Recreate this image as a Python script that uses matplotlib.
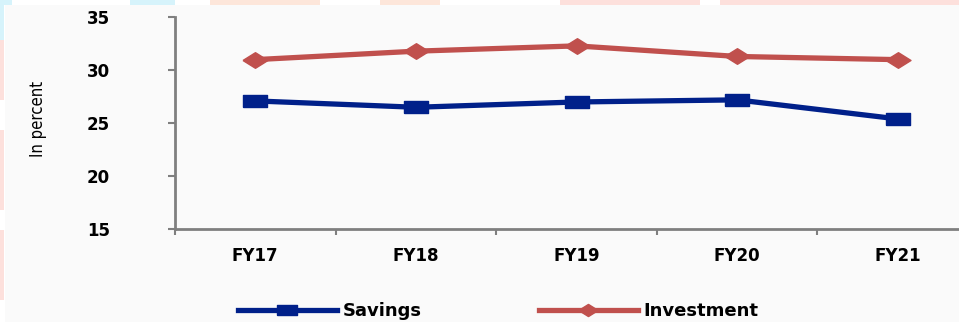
import matplotlib.pyplot as plt
from matplotlib.patches import Rectangle
from matplotlib.ticker import FixedLocator

# values (percent of GDP)
years = ["FY17", "FY18", "FY19", "FY20", "FY21"]
savings = [27.1, 26.5, 27.0, 27.2, 25.4]
investment = [31.0, 31.8, 32.3, 31.3, 31.0]

NAVY = "#00208a"
RED = "#c0504d"
AXIS = "#7f7f7f"

# stretched markers, the source image is widened horizontally
wide_square = [(-2.0, -1), (2.0, -1), (2.0, 1), (-2.0, 1), (-2.0, -1)]
wide_diamond = [(-1.6, 0), (0, 1), (1.6, 0), (0, -1), (-1.6, 0)]

W, H = 959, 322
fig = plt.figure(figsize=(W / 100, H / 100), dpi=100)
fig.patch.set_facecolor("white")

# light chart area plus faint watermark strips at the top and left edge
fig.patches.append(Rectangle((5 / W, 0), 1, 1 - 5 / H, transform=fig.transFigure,
                             facecolor="#fafafa", edgecolor="none", zorder=-3))
for x0, w, c in [(0, 12, "#d6f3fb"), (130, 45, "#d6f3fb"), (210, 110, "#fde6da"),
                 (380, 60, "#fde6da"), (560, 140, "#fde0dc"), (720, 239, "#fde0dc")]:
    fig.patches.append(Rectangle((x0 / W, 1 - 5 / H), w / W, 5 / H, transform=fig.transFigure,
                                 facecolor=c, edgecolor="none", zorder=-3))
for y0, h, c in [(0, 40, "#d6f3fb"), (40, 60, "#fde0dc"), (130, 80, "#fde0dc"), (230, 70, "#fde0dc")]:
    fig.patches.append(Rectangle((0, 1 - (y0 + h) / H), 4 / W, h / H, transform=fig.transFigure,
                                 facecolor=c, edgecolor="none", zorder=-3))

left, right, top, bottom = 175, 978, 17.3, 229
ax = fig.add_axes([left / W, 1 - bottom / H, (right - left) / W, (bottom - top) / H])
ax.set_facecolor("none")

x = range(len(years))
ax.plot(x, savings, color=NAVY, lw=3.8, marker=wide_square, ms=17,
        mec=NAVY, mfc=NAVY, label="Savings", solid_joinstyle="round")
ax.plot(x, investment, color=RED, lw=3.8, marker=wide_diamond, ms=18,
        mec=RED, mfc=RED, label="Investment", solid_joinstyle="round")

ax.set_xlim(-0.5, 4.5)
ax.set_ylim(15, 35)
ax.set_yticks([15, 20, 25, 30, 35])
ax.set_xticks(list(x))
ax.set_xticklabels(years)
ax.xaxis.set_minor_locator(FixedLocator([-0.5, 0.5, 1.5, 2.5, 3.5]))

for s in ["top", "right"]:
    ax.spines[s].set_visible(False)
for s in ["left", "bottom"]:
    ax.spines[s].set_color(AXIS)
    ax.spines[s].set_linewidth(2)

ax.tick_params(axis="y", length=5, width=1.5, color=AXIS, pad=42,
               labelsize=12)
ax.tick_params(axis="x", which="major", length=0, pad=13, labelsize=12)
ax.tick_params(axis="x", which="minor", length=4, width=1.5, color=AXIS)
for lab in ax.get_xticklabels() + ax.get_yticklabels():
    lab.set_fontweight("bold")
    lab.set_fontfamily("DejaVu Sans")

fig.text(38 / W, 1 - 119 / H, "In percent", rotation=90, ha="center", va="center",
         fontsize=12, family="DejaVu Sans", fontstretch="condensed")

leg = fig.legend(loc="center", bbox_to_anchor=(498 / W, 1 - 311 / H), ncol=2,
                 frameon=False, handlelength=5.5, handletextpad=0.3, columnspacing=6.5,
                 borderaxespad=0, borderpad=0,
                 prop={"family": "DejaVu Sans", "weight": "bold", "size": 13})
for h in leg.legend_handles:
    h.set_markersize(14)

fig.savefig("out.png", dpi=100, facecolor=fig.get_facecolor())
